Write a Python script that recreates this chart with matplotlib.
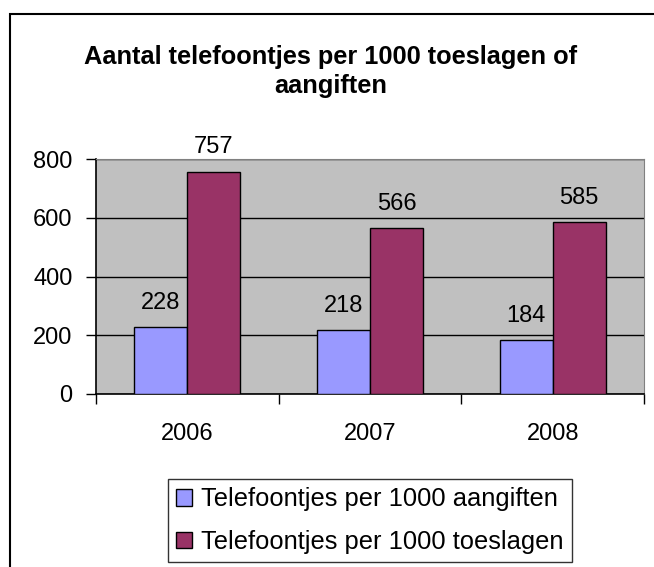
import matplotlib.pyplot as plt
from matplotlib.patches import Rectangle

# data
years = ['2006', '2007', '2008']
aangiften = [228, 218, 184]
toeslagen = [757, 566, 585]
labels = ['Telefoontjes per 1000 aangiften', 'Telefoontjes per 1000 toeslagen']

plt.rcParams['font.family'] = ['Liberation Sans', 'DejaVu Sans']

W, H = 654, 567
fig = plt.figure(figsize=(W / 100, H / 100), dpi=100)

# chart border (left and top visible)
fig.patches.append(Rectangle((9.5 / W, -0.1), 1.2, 1.1 - 13.5 / H, transform=fig.transFigure,
                             fill=False, edgecolor='black', linewidth=1.5, zorder=0))

fig.text(0.505, 1 - 64 / H, 'Aantal telefoontjes per 1000 toeslagen of', ha='center', va='baseline',
         fontsize=18.3, fontweight='bold')
fig.text(0.505, 1 - 93 / H, 'aangiften', ha='center', va='baseline',
         fontsize=18.3, fontweight='bold')

ax = fig.add_axes([96 / W, 1 - 394 / H, (644 - 96) / W, (394 - 159) / H])
ax.set_facecolor('#C0C0C0')

x = list(range(len(years)))
w = 0.29
b1 = ax.bar([i - w / 2 for i in x], aangiften, w, color='#9999FF', edgecolor='black', linewidth=1, label=labels[0], zorder=3)
b2 = ax.bar([i + w / 2 for i in x], toeslagen, w, color='#993366', edgecolor='black', linewidth=1, label=labels[1], zorder=3)

for bars in (b1, b2):
    for bar in bars:
        ax.annotate(str(int(bar.get_height())), (bar.get_x() + bar.get_width() / 2, bar.get_height()),
                    xytext=(0, 9.5), textcoords='offset points', ha='center', va='bottom', fontsize=17)

ax.set_xlim(-0.5, 2.5)
ax.set_ylim(0, 800)
ax.set_yticks([0, 200, 400, 600, 800])
ax.yaxis.grid(True, color='black', linewidth=1, zorder=1)
ax.set_axisbelow(True)
ax.tick_params(axis='y', labelsize=17, length=7, width=1, direction='out', pad=10)
ax.set_xticks([-0.5, 0.5, 1.5, 2.5])
ax.set_xticklabels([])
ax.tick_params(axis='x', length=7, width=1, direction='out')
for i, y in enumerate(years):
    ax.text(i, -135, y, ha='center', va='center', fontsize=17)

ax.spines['top'].set_color('#808080')
ax.spines['right'].set_color('#808080')
ax.spines['left'].set_linewidth(1.2)
ax.spines['bottom'].set_linewidth(1.2)

leg = fig.legend(handles=[b1, b2], labels=labels, loc='upper left',
                 bbox_to_anchor=(168 / W, 1 - 479 / H),
                 fontsize=18.4, frameon=True, fancybox=False, handlelength=0.6,
                 handleheight=0.6, handletextpad=0.36, borderpad=0.33, labelspacing=0.72,
                 borderaxespad=0)
leg.get_frame().set_edgecolor('black')
leg.get_frame().set_linewidth(1)

fig.savefig('out.png', dpi=100)
